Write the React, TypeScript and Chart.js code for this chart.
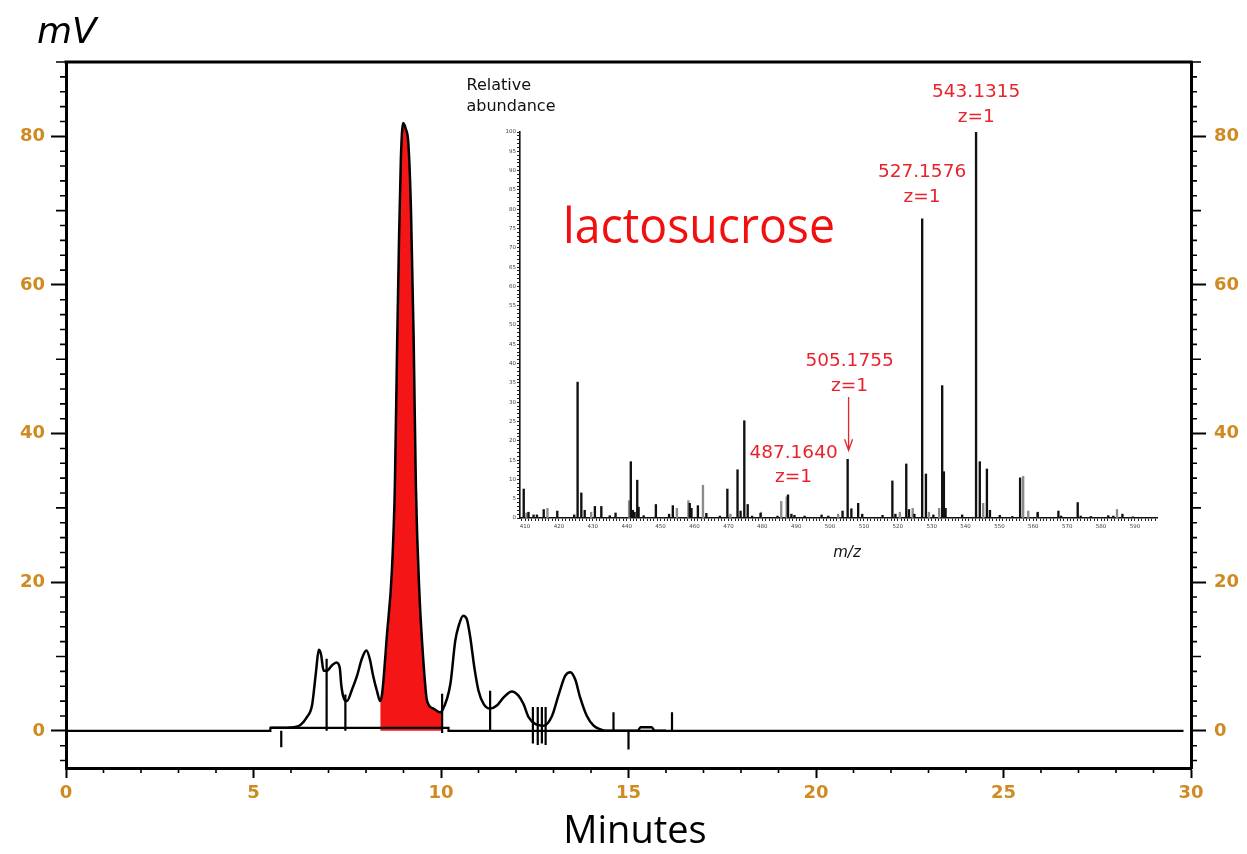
import React, { useEffect, useRef } from 'react';
import { Chart, registerables } from 'chart.js';

Chart.register(...registerables);

// ---------------- Chromatogram (main chart) ----------------
const xTickValues = [0, 5, 10, 15, 20, 25, 30];
const yTickValues = [0, 20, 40, 60, 80];

const traceTime = [
  5.45, 5.98, 6.25, 6.42, 6.56, 6.62, 6.67, 6.74, 6.8, 6.87,
  6.96, 7.09, 7.21, 7.3, 7.34, 7.4, 7.49, 7.63, 7.76, 7.89,
  8.01, 8.1, 8.19, 8.29, 8.38, 8.43, 8.56, 8.69, 8.77, 8.83,
  8.88, 8.93, 8.99, 9.06, 9.13, 9.2, 9.27, 9.33, 9.42, 9.53,
  9.63, 9.8, 9.98, 10.03, 10.25, 10.38, 10.47, 10.59, 10.69, 10.78,
  10.89, 11.0, 11.14, 11.31, 11.49, 11.67, 11.89, 12.07, 12.2, 12.34,
  12.52, 12.74, 12.96, 13.14, 13.31, 13.45, 13.58, 13.71, 13.89, 14.07,
  14.25, 14.4, 15.25, 15.32, 15.62, 15.7, 16.0,
];
const traceMv = [
  0.4, 0.45, 0.8, 1.8, 3.4, 5.8, 8.1, 10.9, 10.3, 8.1,
  8.1, 8.8, 9.2, 8.5, 6.2, 4.5, 4.0, 5.6, 7.4, 9.7,
  10.8, 9.7, 7.4, 5.4, 4.0, 5.0, 13, 21.5, 33, 52,
  66, 77, 81.8, 81, 79, 70, 53, 33, 19, 9.4,
  4.0, 3.0, 2.5, 2.7, 6.3, 12.1, 14.1, 15.5, 15.0, 12.6,
  8.5, 5.4, 3.6, 3.0, 3.4, 4.5, 5.3, 4.7, 3.6, 1.8,
  0.9, 0.7, 2.0, 4.9, 7.4, 7.9, 6.9, 4.5, 2.0, 0.7,
  0.2, 0, 0, 0.5, 0.5, 0, 0,
];

// integrated lactosucrose peak (filled red)
const peakStart = 8.38;
const peakEnd = 10.03;

// integration baseline
const baselineTime = [0, 5.45, 5.45, 10.2, 10.2, 29.8];
const baselineMv = [0, 0, 0.4, 0.4, 0, 0];

// peak start/stop event markers
const markerTime = [5.74, 6.95, 7.45, 10.03, 11.31, 12.45, 12.58, 12.69, 12.79, 14.6, 15.0, 16.16];
const markerLow = [-2.2, 0, 0, -0.3, 0, -1.7, -1.9, -1.7, -1.9, 0, -2.5, 0];
const markerHigh = [0, 9.7, 4.9, 5.0, 5.4, 3.2, 3.2, 3.2, 3.2, 2.5, 0, 2.5];

// ---------------- Mass spectrum (inset) ----------------
const mzTickLabels = [410, 420, 430, 440, 450, 460, 470, 480, 490, 500, 510, 520, 530, 540, 550, 560, 570, 580, 590];
const abundanceTickLabels = [0, 5, 10, 15, 20, 25, 30, 35, 40, 45, 50, 55, 60, 65, 70, 75, 80, 85, 90, 95, 100];

const blackMz = [
  409.6, 411.0, 412.5, 413.5, 415.5, 419.5, 424.5, 425.5, 426.6, 427.6,
  430.6, 432.5, 435.0, 436.7, 441.2, 441.8, 442.3, 443.1, 443.5, 445.0,
  448.6, 452.5, 453.6, 458.6, 459.1, 461.0, 463.5, 467.5, 469.7, 472.7,
  473.6, 474.7, 475.7, 477.0, 479.5, 484.5, 487.6, 488.6, 489.5, 492.5,
  497.5, 499.5, 503.7, 505.2, 506.3, 508.3, 509.5, 515.5, 518.4, 519.3,
  522.5, 523.3, 524.9, 527.2, 528.3, 530.5, 533.1, 533.6, 534.1, 539.0,
  543.1, 544.2, 546.3, 547.2, 550.1, 553.8, 556.1, 561.3, 567.4, 568.2,
  573.1, 574.0, 577.0, 582.1, 583.6, 586.3, 589.4,
];
const blackInt = [
  7.5, 1.5, 0.8, 0.8, 2.2, 1.8, 0.8, 35.2, 6.5, 2.0,
  3.0, 3.0, 0.6, 1.3, 14.6, 2.0, 1.5, 9.8, 2.8, 0.6,
  3.5, 1.0, 3.2, 3.8, 2.5, 3.2, 1.2, 0.5, 7.5, 12.5,
  1.8, 25.2, 3.5, 0.5, 1.2, 0.5, 6.0, 1.0, 0.7, 0.5,
  0.8, 0.5, 1.8, 15.2, 2.4, 3.8, 1.0, 0.7, 9.6, 1.0,
  14.0, 2.2, 1.0, 77.5, 11.4, 0.8, 34.3, 12.0, 2.5, 0.8,
  100, 14.6, 12.7, 2.0, 0.7, 0.4, 10.4, 1.5, 1.8, 0.5,
  4.0, 0.5, 0.4, 0.6, 0.5, 1.0, 0.3,
];
const grayMz = [
  410.4, 416.6, 429.5, 440.7, 454.8, 458.2, 462.5, 470.6, 479.6, 485.6,
  487.2, 502.4, 520.6, 524.4, 529.2, 532.2, 545.2, 557.0, 558.5, 561.2,
  584.7,
];
const grayInt = [
  1.3, 2.5, 1.5, 4.5, 2.5, 4.5, 8.5, 1.0, 1.5, 4.3,
  5.5, 1.0, 1.5, 2.5, 1.5, 2.5, 3.8, 10.8, 1.8, 1.2,
  2.2,
];

const annMz = [543.1315, 527.1576, 505.1755, 487.164];
const annLabel = ['543.1315', '527.1576', '505.1755', '487.1640'];
const annCharge = ['z=1', 'z=1', 'z=1', 'z=1'];
// layout of the annotations (pixel shift, abundance level of the "z=1" line)
const annLayout = [
  { dx: 0, at: 103.9 },
  { dx: 0, at: 83.2 },
  { dx: 2, at: 34.2 },
  { dx: 7, at: 10.5 },
];

const LABEL_COLOR = '#cf8a22';
const RED = '#e8232b';

const mainDecor = {
  id: 'mainDecor',
  afterDraw(chart: any) {
    const { ctx, chartArea: a, scales } = chart;
    const x = scales.x;
    const y = scales.y;
    ctx.save();
    ctx.strokeStyle = '#000';
    ctx.lineWidth = 3;
    ctx.beginPath();
    ctx.moveTo(a.left - 1.5, a.top);
    ctx.lineTo(a.right + 1.5, a.top);
    ctx.stroke();
    ctx.lineWidth = 1.6;
    for (let v = -4; v <= 90; v += 2) {
      if (yTickValues.includes(v)) continue;
      const len = v % 10 === 0 ? 10 : 6;
      const py = y.getPixelForValue(v);
      ctx.beginPath();
      ctx.moveTo(a.left - len, py);
      ctx.lineTo(a.left, py);
      ctx.moveTo(a.right, py);
      ctx.lineTo(a.right + len, py);
      ctx.stroke();
    }
    for (let t = 1; t < 30; t++) {
      if (xTickValues.includes(t)) continue;
      const px = x.getPixelForValue(t);
      ctx.beginPath();
      ctx.moveTo(px, a.bottom);
      ctx.lineTo(px, a.bottom + 5);
      ctx.stroke();
    }
    ctx.fillStyle = '#000';
    ctx.textBaseline = 'alphabetic';
    ctx.textAlign = 'left';
    ctx.font = 'italic 36px "DejaVu Sans"';
    ctx.fillText('mV', 37, 43);
    ctx.textAlign = 'center';
    ctx.font = '38px "Open Sans"';
    ctx.fillText('Minutes', 635, 843);
    ctx.restore();
  },
};

const insetDecor = {
  id: 'insetDecor',
  afterDraw(chart: any) {
    const { ctx, scales } = chart;
    const x = scales.x;
    const y = scales.y;
    ctx.save();
    ctx.fillStyle = '#111';
    ctx.font = '16px "DejaVu Sans"';
    ctx.textBaseline = 'middle';
    ctx.textAlign = 'left';
    ctx.fillText('Relative', 6.5, 15.7);
    ctx.fillText('abundance', 6.5, 36.7);
    ctx.font = 'italic 15px "DejaVu Sans"';
    ctx.textAlign = 'center';
    ctx.fillText('m/z', 387, 483);

    // compound name
    ctx.fillStyle = '#f01010';
    ctx.font = '50px "Open Sans"';
    const w = ctx.measureText('lactosucrose').width;
    ctx.save();
    ctx.translate(103, 173);
    ctx.scale(272 / w, 1);
    ctx.textAlign = 'left';
    ctx.textBaseline = 'alphabetic';
    ctx.fillText('lactosucrose', 0, 0);
    ctx.restore();

    // peak annotations
    ctx.fillStyle = RED;
    ctx.strokeStyle = RED;
    ctx.font = '18.5px "DejaVu Sans"';
    ctx.textAlign = 'center';
    ctx.textBaseline = 'middle';
    annMz.forEach((mz, i) => {
      const px = x.getPixelForValue(mz) + annLayout[i].dx;
      const py = y.getPixelForValue(annLayout[i].at);
      ctx.fillText(annLabel[i], px, py - 24.5);
      ctx.fillText(annCharge[i], px, py);
    });
    // arrow to 505.1755
    const ax = x.getPixelForValue(annMz[2]) + 1;
    const ay0 = y.getPixelForValue(annLayout[2].at) + 11;
    const ay1 = y.getPixelForValue(blackInt[blackMz.indexOf(505.2)]) - 9;
    ctx.lineWidth = 1.3;
    ctx.beginPath();
    ctx.moveTo(ax, ay0);
    ctx.lineTo(ax, ay1);
    ctx.moveTo(ax - 4, ay1 - 11);
    ctx.lineTo(ax, ay1);
    ctx.lineTo(ax + 4, ay1 - 11);
    ctx.stroke();
    ctx.restore();
  },
};

export default function App() {
  const mainRef = useRef<HTMLCanvasElement>(null);
  const insetRef = useRef<HTMLCanvasElement>(null);

  useEffect(() => {
    const trace = traceTime.map((t, i) => ({ x: t, y: traceMv[i] }));
    const peak = trace.filter((p) => p.x >= peakStart && p.x <= peakEnd);
    const baseline = baselineTime.map((t, i) => ({ x: t, y: baselineMv[i] }));
    const markers: any[] = [];
    markerTime.forEach((t, i) => {
      markers.push({ x: t, y: markerLow[i] }, { x: t, y: markerHigh[i] }, { x: t, y: null });
    });

    const tickFont = { family: 'DejaVu Sans', size: 18, weight: 'bold' as const };
    const yScale = (position: 'left' | 'right', width: number, padding: number) => ({
      type: 'linear' as const,
      position,
      min: -5,
      max: 90,
      afterBuildTicks: (s: any) => {
        s.ticks = yTickValues.map((v) => ({ value: v }));
      },
      afterFit: (s: any) => {
        s.width = width;
      },
      ticks: { color: LABEL_COLOR, font: tickFont, padding, callback: (v: any) => String(v) },
      grid: { drawOnChartArea: false, tickLength: 15, tickWidth: 2, tickColor: '#000' },
      border: { color: '#000', width: 3 },
    });

    const main = new Chart(mainRef.current!, {
      type: 'line',
      data: {
        datasets: [
          {
            label: 'trace',
            data: trace,
            borderColor: '#000',
            borderWidth: 2.5,
            pointRadius: 0,
            cubicInterpolationMode: 'monotone',
            fill: false,
            order: 1,
          },
          {
            label: 'markers',
            data: markers,
            borderColor: '#000',
            borderWidth: 2.2,
            pointRadius: 0,
            spanGaps: false,
            fill: false,
            order: 2,
          },
          {
            label: 'baseline',
            data: baseline,
            borderColor: '#000',
            borderWidth: 2.2,
            pointRadius: 0,
            fill: false,
            order: 3,
          },
          {
            label: 'lactosucrose',
            data: peak,
            borderWidth: 0,
            borderColor: 'rgba(0,0,0,0)',
            backgroundColor: '#f41616',
            pointRadius: 0,
            cubicInterpolationMode: 'monotone',
            fill: 'origin',
            order: 10,
          },
        ],
      },
      options: {
        animation: false,
        responsive: false,
        maintainAspectRatio: false,
        devicePixelRatio: 1,
        layout: { padding: { top: 62, left: 0, right: 0, bottom: 0 } },
        plugins: { legend: { display: false }, tooltip: { enabled: false } },
        scales: {
          x: {
            type: 'linear',
            min: 0,
            max: 30,
            position: 'bottom',
            afterBuildTicks: (s: any) => {
              s.ticks = xTickValues.map((v) => ({ value: v }));
            },
            afterFit: (s: any) => {
              s.height = 86;
            },
            ticks: { color: LABEL_COLOR, font: tickFont, padding: 5, maxRotation: 0, callback: (v: any) => String(v) },
            grid: { drawOnChartArea: false, tickLength: 10, tickWidth: 2, tickColor: '#000' },
            border: { color: '#000', width: 3 },
          },
          y: yScale('left', 66, 6),
          y2: yScale('right', 56, 8),
        },
      },
      plugins: [mainDecor],
    });

    const insetTickFont = { family: 'DejaVu Sans', size: 5.5 };
    const inset = new Chart(insetRef.current!, {
      type: 'bar',
      data: {
        datasets: [
          {
            label: 'ions',
            data: blackMz.map((m, i) => ({ x: m, y: blackInt[i] })),
            backgroundColor: '#111',
            barThickness: 1.7,
            grouped: false,
            order: 1,
          },
          {
            label: 'ions (minor)',
            data: grayMz.map((m, i) => ({ x: m, y: grayInt[i] })),
            backgroundColor: '#8c8c8c',
            barThickness: 1.7,
            grouped: false,
            order: 2,
          },
        ],
      },
      options: {
        animation: false,
        responsive: false,
        maintainAspectRatio: false,
        devicePixelRatio: 1,
        layout: { padding: { top: 62, left: 0, right: 23, bottom: 0 } },
        plugins: { legend: { display: false }, tooltip: { enabled: false } },
        scales: {
          x: {
            type: 'linear',
            min: 408.5,
            max: 596.5,
            offset: false,
            afterBuildTicks: (s: any) => {
              const t: any[] = [];
              for (let v = 409; v <= 596; v++) t.push({ value: v });
              s.ticks = t;
            },
            afterFit: (s: any) => {
              s.height = 52;
            },
            ticks: {
              autoSkip: false,
              maxRotation: 0,
              minRotation: 0,
              padding: 2,
              color: '#444',
              font: insetTickFont,
              callback: (v: any) => (mzTickLabels.includes(v) ? String(v) : ''),
            },
            grid: { drawOnChartArea: false, offset: false, tickLength: 3, tickWidth: 1, tickColor: '#222' },
            border: { color: '#111', width: 1.6 },
          },
          y: {
            type: 'linear',
            min: 0,
            max: 100,
            afterBuildTicks: (s: any) => {
              const t: any[] = [];
              for (let v = 0; v <= 100; v++) t.push({ value: v });
              s.ticks = t;
            },
            afterFit: (s: any) => {
              s.width = 60;
            },
            ticks: {
              autoSkip: false,
              padding: 1,
              color: '#444',
              font: insetTickFont,
              callback: (v: any) => (abundanceTickLabels.includes(v) ? String(v) : ''),
            },
            grid: { drawOnChartArea: false, tickLength: 3, tickWidth: 1, tickColor: '#222' },
            border: { color: '#111', width: 1.6 },
          },
        },
      },
      plugins: [insetDecor],
    });

    return () => {
      main.destroy();
      inset.destroy();
    };
  }, []);

  return (
    <div style={{ position: 'absolute', left: 0, top: 0, width: 1247, height: 854, background: '#fff' }}>
      <canvas ref={mainRef} width={1247} height={854} style={{ position: 'absolute', left: 0, top: 0 }} />
      <canvas ref={insetRef} width={720} height={500} style={{ position: 'absolute', left: 460, top: 70 }} />
    </div>
  );
}
